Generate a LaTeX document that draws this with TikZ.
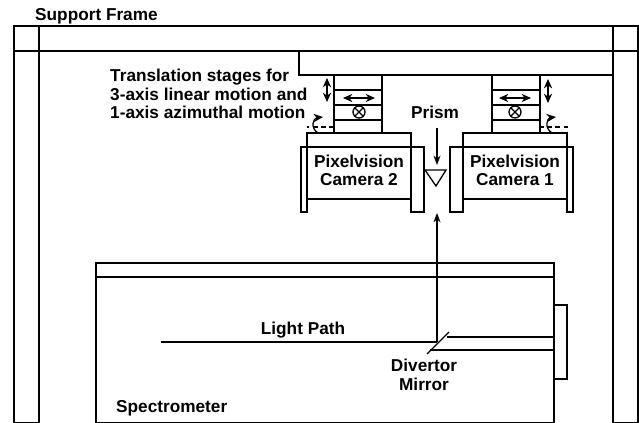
\documentclass[tikz,border=0pt]{standalone}
\usepackage{fontspec}
\setmainfont{Liberation Sans}
\usetikzlibrary{arrows.meta}
\tikzset{
  part/.style={line width=1.3pt},
  ray/.style={line width=1.1pt},
  tag/.style={font=\bfseries\fontsize{14.7}{15.7}\selectfont, align=center, inner sep=0pt},
  motion/.style={line width=1.1pt, {Stealth[length=8pt,width=7pt]}-{Stealth[length=8pt,width=7pt]}},
  turning/.style={line width=1.1pt, -{Stealth[length=8pt,width=7pt]}},
  swing/.style={line width=1pt, dash pattern=on 4pt off 3pt},
}

\begin{document}
\begin{tikzpicture}[x=0.03cm,y=-0.03cm]
  \useasboundingbox (0,0) rectangle (639,423);
  % support frame
  \draw[part] (14,423)--(14,26)--(638,26)--(638,423);
  \draw[part] (14,51)--(638,51);
  \draw[part] (39,26)--(39,423);
  \draw[part] (613,26)--(613,423);
  \draw[part] (14,423)--(39,423);
  \draw[part] (613,423)--(638,423);
  \draw[part] (299,51)--(299,75)--(613,75);
  % stages
  \foreach \x/\y in {334/359,492/515} {
    \draw[part] (\x,75) rectangle (\x+48,133);
    \foreach \z in {90,105,120}
      \draw[part] (\x,\z)--(\x+48,\z);
    \draw[motion] (\y-16,98)--(\y+16,98);
    \draw[line width=1.1pt] (\y,112) circle (6);
    \draw[line width=1.1pt] (\y-4.2,107.8)--(\y+4.2,116.2) (\y-4.2,116.2)--(\y+4.2,107.8);
  }
  % cameras
  \foreach \x/\l/\r in {307/6/13,463/13/6} {
    \draw[part] (\x,133) rectangle (\x+104,199);
    \draw[part] (\x-\l,147) rectangle (\x,212);
    \draw[part] (\x+104,147) rectangle (\x+104+\r,212);
    \draw[part] (\x,147)--(\x+104,147);
  }
  \draw[motion] (327,78)--(327,102);
  \draw[motion] (548,79)--(548,103);
  % azimuthal motion
  \draw[swing] (334,127)--(307,127);
  \draw[swing] (539,127)--(568,127);
  \draw[turning] (318,133) .. controls (310,128) and (313,118) .. (323,117);
  \draw[turning] (552,133) .. controls (544,128) and (547,118) .. (556,117);
  % prism
  \draw[line width=1.1pt] (425,170)--(446,170)--(436,186)--cycle;
  \draw[ray, -{Stealth[length=8pt,width=6pt]}] (437,128)--(437,165);
  % spectrometer
  \draw[part] (96,423)--(96,263)--(554,263)--(554,423);
  \draw[part] (96,423)--(554,423);
  \draw[part] (96,277)--(554,277);
  \draw[part] (554,305) rectangle (567,379);
  % light path
  \coordinate (turn) at (437,342);
  \coordinate (entry) at (161,342);
  \coordinate (exit) at (437,213);
  \draw[ray] (entry)--(turn);
  \draw[ray, -{Stealth[length=8pt,width=6pt]}] (turn)--(exit);
  \draw[ray] (447,337)--(554,337);
  \draw[ray] (430,350)--(554,350);
  \draw[ray] (427,354)--(449,332);
  % labels
  \node[tag, anchor=west] (frame) at (35,16) {Support Frame};
  \node[tag, anchor=west, align=left] (stages) at (110,94) {Translation stages for\\3-axis linear motion and\\1-axis azimuthal motion};
  \node[tag] (prism) at (435,112) {Prism};
  \node[tag] (cam2) at (359,170.5) {Pixelvision\\Camera 2};
  \node[tag] (cam1) at (515,170.5) {Pixelvision\\Camera 1};
  \node[tag] (lightpath) at (303,330) {Light Path};
  \node[tag] (divertor) at (424,375) {Divertor\\Mirror};
  \node[tag, anchor=west] (spectro) at (116,408) {Spectrometer};
\end{tikzpicture}
\end{document}
